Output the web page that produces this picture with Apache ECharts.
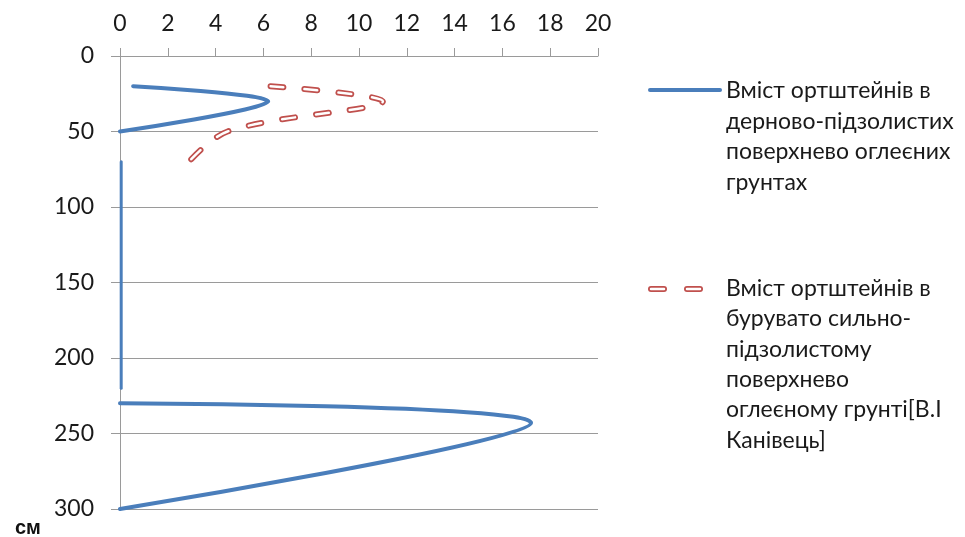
<!DOCTYPE html>
<html>
<head>
<meta charset="utf-8">
<script src="https://cdn.jsdelivr.net/npm/echarts@6/dist/echarts.min.js"></script>
<style>
  html, body { margin: 0; padding: 0; background: #fff; }
  #chart { width: 965px; height: 537px; }
</style>
</head>
<body>
<div id="chart"></div>
<script>
// Ortstein content (x) by depth (cm, y axis pointing down)
// Sod-podzolic surface-gleyed soils: three stretches of the profile
const sodDepthTop = [20, 30, 50];
const sodValueTop = [0.55, 6.2, 0];
const sodDepthMid = [70, 220];
const sodValueMid = [0.05, 0.05];
const sodDepthLow = [230, 243, 300];
const sodValueLow = [0, 17.2, 0];

// Brownish strongly podzolic surface-gleyed soil [В.І Канівець]
const brownDepth = [20, 30, 50, 75];
const brownValue = [6.3, 11, 4.5, 2.6];

const xTicks = { min: 0, max: 20, step: 2 };
const yTicks = { min: 0, max: 300, step: 50 };

const sodName = 'Вміст ортштейнів в дерново-підзолистих поверхнево оглеєних грунтах';
const brownName = 'Вміст ортштейнів в бурувато сильно-підзолистому поверхнево оглеєному грунті[В.І Канівець]';
const sodLegendLines = ['Вміст ортштейнів в', 'дерново-підзолистих', 'поверхнево оглеєних', 'грунтах'];
const brownLegendLines = ['Вміст ортштейнів в', 'бурувато сильно-', 'підзолистому', 'поверхнево', 'оглеєному грунті[В.І', 'Канівець]'];

const BLUE = '#4A7EBB';
const RED = '#C0504D';
const GRID = '#9a9a9a';
const FONT = 'Lato';
const LEGEND_SIZE = 23;

function pairs(xs, ys) { return xs.map((x, i) => [x, ys[i]]); }

function blueSeries(xs, ys, width) {
  return {
    name: sodName, type: 'line', smooth: 0.35, symbol: 'none',
    data: pairs(xs, ys),
    lineStyle: { color: BLUE, width: width, cap: 'round', join: 'round' },
    z: 3
  };
}

const chart = echarts.init(document.getElementById('chart'), null, { renderer: 'canvas' });

// legend rows: y is the centre line of each row
function legendText(lines, x, y0, lh) {
  return lines.map((t, i) => ({
    type: 'text', left: x, top: Math.round(y0 + i * lh - LEGEND_SIZE * 0.62),
    style: { text: t, font: LEGEND_SIZE + 'px ' + FONT, fill: '#1a1a1a' }
  }));
}

const graphic = [
  { type: 'line', shape: { x1: 650, y1: 90, x2: 720, y2: 90 },
    style: { stroke: BLUE, lineWidth: 4, lineCap: 'round' } },
  { type: 'line', shape: { x1: 651, y1: 289, x2: 664, y2: 289 },
    style: { stroke: RED, lineWidth: 6, lineCap: 'round' } },
  { type: 'line', shape: { x1: 651, y1: 289, x2: 664, y2: 289 },
    style: { stroke: '#fff', lineWidth: 2.5, lineCap: 'round' } },
  { type: 'line', shape: { x1: 687, y1: 289, x2: 700, y2: 289 },
    style: { stroke: RED, lineWidth: 6, lineCap: 'round' } },
  { type: 'line', shape: { x1: 687, y1: 289, x2: 700, y2: 289 },
    style: { stroke: '#fff', lineWidth: 2.5, lineCap: 'round' } }
];

chart.setOption({
  animation: false,
  backgroundColor: '#fff',
  title: {
    text: 'см', left: 10, top: 513,
    textStyle: { fontFamily: 'Liberation Sans', fontWeight: 'bold', fontSize: 20, color: '#111' }
  },
  grid: { left: 120, right: 367, top: 56, bottom: 28 },
  xAxis: {
    type: 'value', position: 'top',
    min: xTicks.min, max: xTicks.max, interval: xTicks.step,
    axisLine: { show: true, lineStyle: { color: GRID, width: 1 } },
    axisTick: { show: true, inside: false, length: 8, lineStyle: { color: GRID } },
    splitLine: { show: false },
    axisLabel: { margin: 21, fontFamily: FONT, fontSize: 23, color: '#1a1a1a' }
  },
  yAxis: {
    type: 'value', inverse: true,
    min: yTicks.min, max: yTicks.max, interval: yTicks.step,
    axisLine: { show: true, lineStyle: { color: GRID, width: 1 } },
    axisTick: { show: true, length: 9, lineStyle: { color: GRID } },
    splitLine: { show: true, lineStyle: { color: GRID, width: 1 } },
    axisLabel: { margin: 26, fontFamily: FONT, fontSize: 23, color: '#1a1a1a' }
  },
  series: [
    blueSeries(sodValueTop, sodDepthTop, 4),
    blueSeries(sodValueMid, sodDepthMid, 3),
    blueSeries(sodValueLow, sodDepthLow, 4),
    {
      name: brownName, type: 'line', smooth: 0.35, symbol: 'none',
      data: pairs(brownValue, brownDepth),
      lineStyle: { color: RED, width: 6, type: [13, 21], cap: 'round' },
      z: 4
    },
    {
      name: brownName + ' ', type: 'line', smooth: 0.35, symbol: 'none',
      data: pairs(brownValue, brownDepth),
      lineStyle: { color: '#fff', width: 2.5, type: [13, 21], cap: 'round' },
      z: 5
    }
  ],
  graphic: graphic
    .concat(legendText(sodLegendLines, 726, 93, 30.8))
    .concat(legendText(brownLegendLines, 726, 291, 30.4))
});
</script>
</body>
</html>
